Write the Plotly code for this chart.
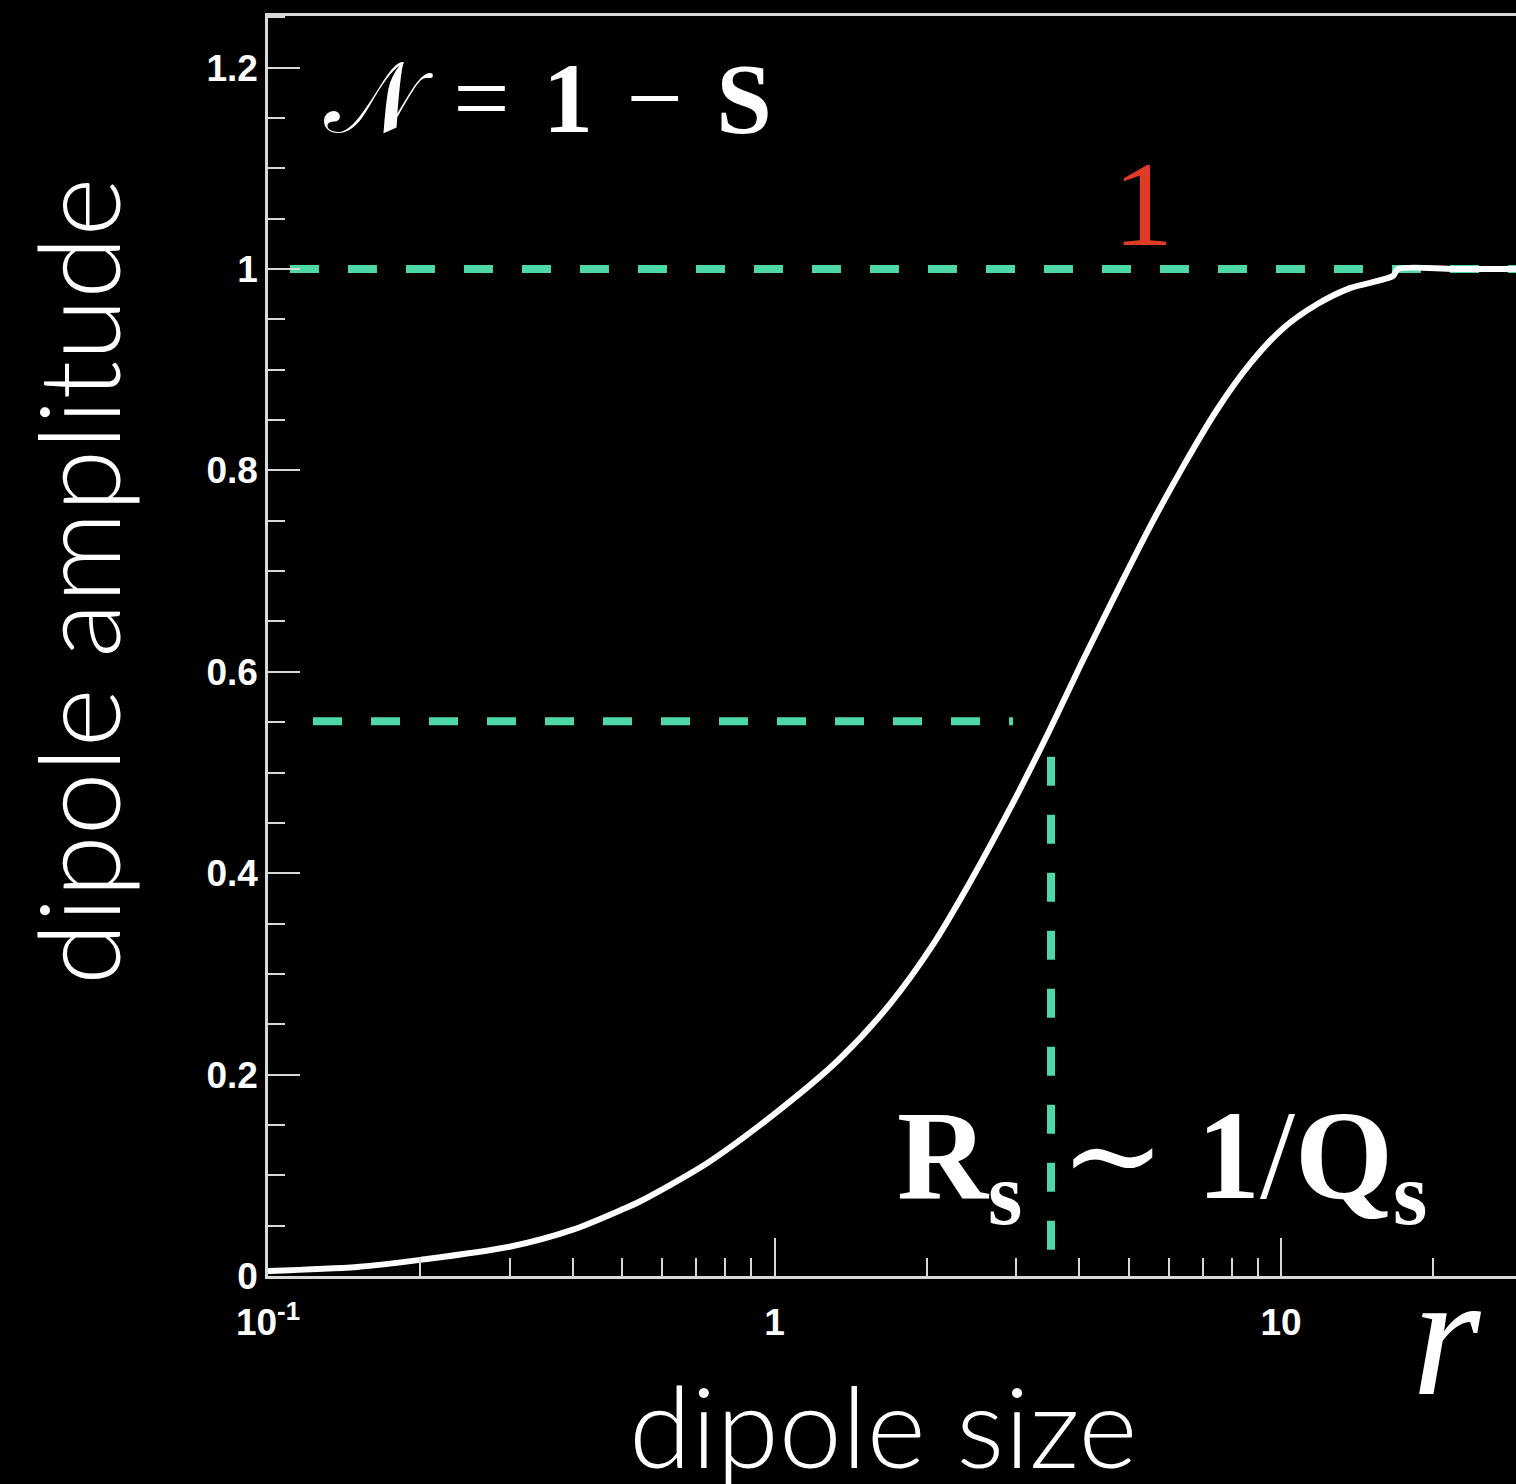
import plotly.graph_objects as go

# Dipole scattering amplitude N(r) versus dipole size r
r_values = [0.100, 0.150, 0.200, 0.300, 0.400, 0.500, 0.542, 0.736, 1.000, 1.347,
            1.690, 2.055, 2.432, 2.958, 3.500, 4.060, 4.880, 5.510, 6.410, 7.470,
            8.690, 10.09, 11.78, 13.68, 16.63, 17.02, 22.0, 30.0]
amplitude = [0.005, 0.009, 0.016, 0.029, 0.046, 0.066, 0.074, 0.112, 0.161, 0.216,
             0.270, 0.329, 0.391, 0.470, 0.543, 0.611, 0.692, 0.744, 0.804, 0.860,
             0.906, 0.941, 0.965, 0.981, 0.993, 1.000, 1.000, 1.000]

# Reference levels
saturation_level = 1.0           # black-disk limit
half_level = 0.551               # amplitude level marking the saturation scale
saturation_radius = 3.515        # R_s
half_line_r = [0.1227, 2.958]
sat_line_r = [0.1105, 30.0]
rs_line_n = [0.026, 0.518]

x_tickvals = [0.1, 1, 10]
x_ticktext = ["10<sup>-1</sup>", "1", "10"]
y_tickvals = [0, 0.2, 0.4, 0.6, 0.8, 1.0, 1.2]
y_ticktext = ["0", "0.2", "0.4", "0.6", "0.8", "1", "1.2"]

W, H = 1516, 1484
L, T, B = 268, 16, 208
PW, PH = W - L, H - T - B
AXIS = "#d8d8d8"
TEAL = "#4ed8a8"
DASH = "29px,29px"


def px_x(px):
    return (px - L) / PW


def px_y(py):
    return (T + PH - py) / PH


fig = go.Figure()

fig.add_trace(go.Scatter(
    x=sat_line_r, y=[saturation_level, saturation_level], mode="lines",
    line=dict(color=TEAL, width=8, dash=DASH), hoverinfo="skip"))
fig.add_trace(go.Scatter(
    x=half_line_r, y=[half_level, half_level], mode="lines",
    line=dict(color=TEAL, width=8, dash=DASH), hoverinfo="skip"))
fig.add_trace(go.Scatter(
    x=[saturation_radius, saturation_radius], y=rs_line_n, mode="lines",
    line=dict(color=TEAL, width=8, dash=DASH), hoverinfo="skip"))

fig.add_trace(go.Scatter(
    x=r_values, y=amplitude, mode="lines",
    line=dict(color="white", width=6, shape="spline", smoothing=0.8),
    hoverinfo="skip"))

tick_font = dict(family="Liberation Sans, Arial, sans-serif", size=37,
                 color="white", weight="bold")

fig.update_layout(
    width=W, height=H,
    margin=dict(l=L, r=0, t=T, b=B, pad=0),
    paper_bgcolor="black", plot_bgcolor="black",
    showlegend=False,
    xaxis=dict(
        type="log", range=[-1, -1 + PW / 506.5],
        showgrid=False, zeroline=False,
        showline=True, linecolor=AXIS, linewidth=2.5, mirror=True,
        tickmode="array", tickvals=x_tickvals, ticktext=x_ticktext,
        ticks="inside", ticklen=38, tickwidth=2, tickcolor=AXIS,
        tickfont=tick_font, ticklabelstandoff=12,
        minor=dict(ticks="inside", ticklen=18, tickwidth=2, tickcolor=AXIS,
                   dtick="D1", showgrid=False),
    ),
    yaxis=dict(
        range=[0, PH / 1007.0],
        showgrid=False, zeroline=False,
        showline=True, linecolor=AXIS, linewidth=2.5, mirror=False,
        tickmode="array", tickvals=y_tickvals, ticktext=y_ticktext,
        ticks="inside", ticklen=32, tickwidth=2, tickcolor=AXIS,
        tickfont=tick_font, ticklabelstandoff=0,
        minor=dict(ticks="inside", ticklen=17, tickwidth=2, tickcolor=AXIS,
                   tick0=0, dtick=0.05, showgrid=False),
    ),
)

serif = "Liberation Serif, DejaVu Serif, serif"
title_font = dict(family="Lato, Open Sans, sans-serif", size=113,
                  color="white", weight=300)
SP = "\u2004"

annotations = [
    dict(text=f"𝒩{SP}={SP}<b>1</b>{SP}−{SP}<b>S</b>", x=px_x(322), y=px_y(99),
         xanchor="left", yanchor="middle",
         font=dict(family=serif, size=100, color="white")),
    dict(text="1", x=px_x(1143), y=px_y(204), xanchor="center", yanchor="middle",
         font=dict(family=serif, size=121, color="#e03c25")),
    dict(text="<b>R<sub>s</sub></b>", x=px_x(1024), y=px_y(1164),
         xanchor="right", yanchor="middle",
         font=dict(family=serif, size=126, color="white")),
    dict(text="∼ <b>1</b>/<b>Q<sub>s</sub></b>", x=px_x(1058), y=px_y(1164),
         xanchor="left", yanchor="middle",
         font=dict(family=serif, size=126, color="white")),
    dict(text="<i>r</i>", x=px_x(1447), y=px_y(1334), xanchor="center",
         yanchor="middle", font=dict(family=serif, size=176, color="white")),
    dict(text="dipole size", x=px_x(883), y=px_y(1424), xanchor="center",
         yanchor="middle", font=title_font),
    dict(text="dipole amplitude", x=px_x(76), y=px_y(582), xanchor="center",
         yanchor="middle", textangle=-90, font=title_font),
]
for a in annotations:
    a.update(xref="paper", yref="paper", showarrow=False)
fig.update_layout(annotations=annotations)

fig.write_html("out.html")
